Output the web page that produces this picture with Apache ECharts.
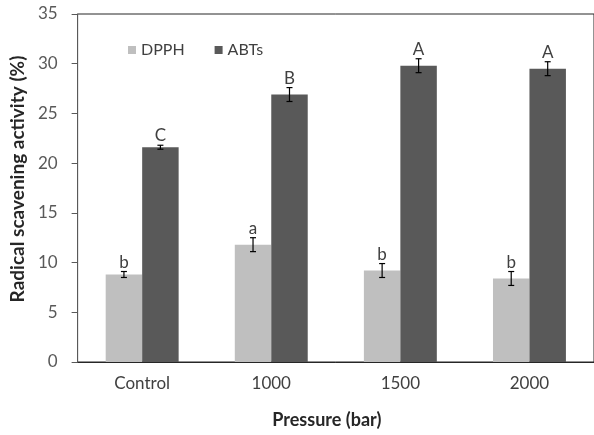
<!DOCTYPE html>
<html>
<head>
<meta charset="utf-8">
<script src="https://cdn.jsdelivr.net/npm/echarts@6/dist/echarts.min.js"></script>
<style>
html,body{margin:0;padding:0;background:#fff;}
#chart{width:594px;height:435px;}
</style>
</head>
<body>
<div id="chart"></div>
<script>
const categories = ['Control', '1000', '1500', '2000'];
const dpphValues = [8.8, 11.8, 9.2, 8.4];
const dpphErrors = [0.3, 0.7, 0.7, 0.7];
const dpphLetters = ['b', 'a', 'b', 'b'];
const abtsValues = [21.6, 26.9, 29.8, 29.5];
const abtsErrors = [0.2, 0.7, 0.7, 0.7];
const abtsLetters = ['C', 'B', 'A', 'A'];
const yTicks = [0, 5, 10, 15, 20, 25, 30, 35];

const FONT = 'Lato';
const CAT_GAP = 0.435;
const barFrac = (1 - CAT_GAP) / 2;

function errData(vals, errs) {
  return vals.map((v, i) => [i, v, errs[i]]);
}

function makeRender(side, letters) {
  return function (params, api) {
    const idx = api.value(0);
    const v = api.value(1);
    const e = api.value(2);
    const letter = letters[params.dataIndex];
    const band = api.size([1, 0])[0];
    const off = side * band * barFrac / 2;
    const top = api.coord([idx, v + e]);
    const bot = api.coord([idx, v - e]);
    const x = top[0] + off;
    const cap = 3;
    return {
      type: 'group',
      children: [
        { type: 'line', shape: { x1: x, y1: top[1], x2: x, y2: bot[1] }, style: { stroke: '#000', lineWidth: 1.2 } },
        { type: 'line', shape: { x1: x - cap, y1: top[1], x2: x + cap, y2: top[1] }, style: { stroke: '#000', lineWidth: 1.2 } },
        { type: 'line', shape: { x1: x - cap, y1: bot[1], x2: x + cap, y2: bot[1] }, style: { stroke: '#000', lineWidth: 1.2 } },
        { type: 'text', x: x, y: top[1] - 1, style: { text: letter, fill: '#404040', font: '17px ' + FONT, align: 'center', verticalAlign: 'bottom' } }
      ]
    };
  };
}

const chart = echarts.init(document.getElementById('chart'));
chart.setOption({
  animation: false,
  backgroundColor: '#fff',
  textStyle: { fontFamily: FONT },
  grid: { left: 76, right: -4, top: 14, bottom: 73, show: true, borderColor: '#262626', borderWidth: 1, backgroundColor: 'transparent' },
  legend: {
    left: 123, top: 37, itemWidth: 8, itemHeight: 8, itemGap: 30,
    icon: 'rect',
    textStyle: { fontSize: 16, color: '#404040', fontFamily: FONT },
    data: ['DPPH', 'ABTs']
  },
  xAxis: {
    type: 'category',
    data: categories,
    axisLine: { show: true, lineStyle: { color: '#262626', width: 1 } },
    axisTick: { show: false },
    axisLabel: { fontSize: 17, color: '#404040', margin: 13, fontFamily: FONT },
    name: 'Pressure (bar)',
    nameLocation: 'middle',
    nameGap: 49,
    nameTextStyle: { fontSize: 18, fontWeight: 'bold', color: '#262626', fontFamily: FONT, padding: [0, 18, 0, 0] }
  },
  yAxis: {
    type: 'value',
    min: yTicks[0], max: yTicks[yTicks.length - 1], interval: 5,
    axisLine: { show: true, lineStyle: { color: '#595959', width: 1 } },
    axisTick: { show: true, inside: false, length: 6, lineStyle: { color: '#595959' } },
    axisLabel: { fontSize: 17, color: '#595959', margin: 20, fontFamily: FONT },
    splitLine: { show: false },
    name: 'Radical scavening activity (%)',
    nameLocation: 'middle',
    nameGap: 49,
    nameTextStyle: { fontSize: 19, fontWeight: 'bold', color: '#262626', fontFamily: FONT, padding: [0, 0, 0, 18] }
  },
  series: [
    { name: 'DPPH', type: 'bar', data: dpphValues, barGap: '0%', barCategoryGap: (CAT_GAP * 100) + '%', itemStyle: { color: '#BFBFBF' } },
    { name: 'ABTs', type: 'bar', data: abtsValues, barGap: '0%', barCategoryGap: (CAT_GAP * 100) + '%', itemStyle: { color: '#595959' } },
    { type: 'custom', renderItem: makeRender(-1, dpphLetters), data: errData(dpphValues, dpphErrors), z: 10, encode: { x: 0, y: 1 } },
    { type: 'custom', renderItem: makeRender(1, abtsLetters), data: errData(abtsValues, abtsErrors), z: 10, encode: { x: 0, y: 1 } }
  ]
});
</script>
</body>
</html>
